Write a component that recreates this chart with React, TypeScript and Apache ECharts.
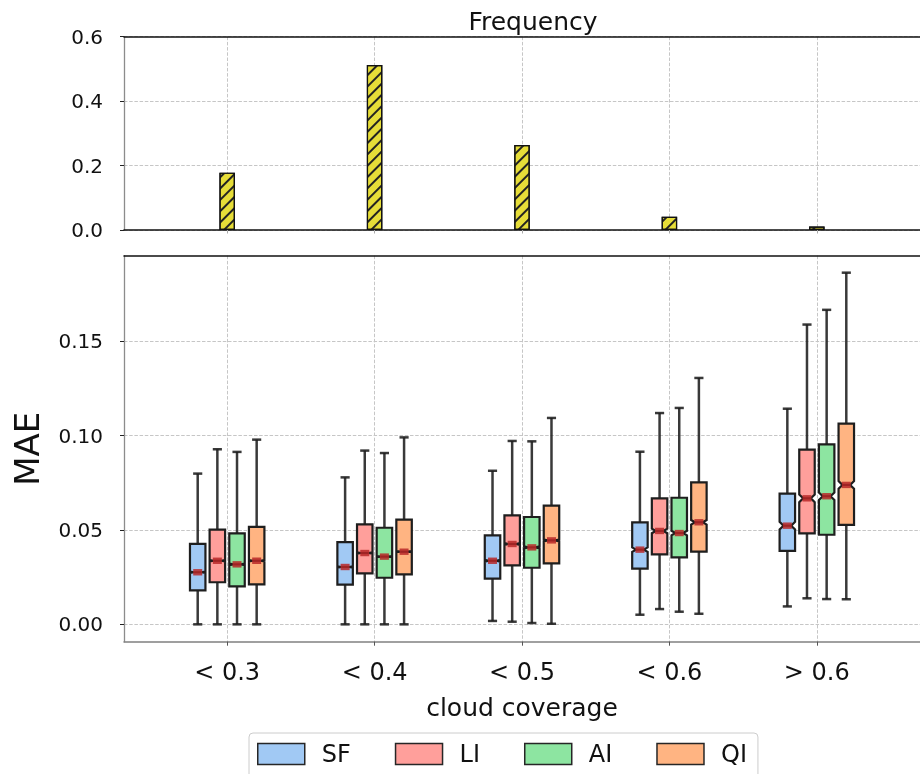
import React, { useEffect, useRef } from 'react';
import * as echarts from 'echarts';

// ---------------- data ----------------
const categories = ['< 0.3', '< 0.4', '< 0.5', '< 0.6', '> 0.6'];
const frequency = [0.178, 0.512, 0.264, 0.041, 0.011];
const seriesNames = ['SF', 'LI', 'AI', 'QI'];
// per category: [lower whisker, q1, median, q3, upper whisker]
const sfStats = [
  [0.0, 0.018, 0.0276, 0.0427, 0.0799],
  [0.0, 0.021, 0.0304, 0.0436, 0.0779],
  [0.0018, 0.0242, 0.0337, 0.0472, 0.0814],
  [0.0051, 0.0295, 0.0396, 0.0541, 0.0915],
  [0.0095, 0.0389, 0.0523, 0.0693, 0.1143],
];
const liStats = [
  [0.0, 0.0223, 0.0337, 0.0502, 0.0928],
  [0.0, 0.027, 0.0378, 0.053, 0.0921],
  [0.0014, 0.0313, 0.0426, 0.0578, 0.0972],
  [0.0081, 0.0371, 0.0495, 0.0668, 0.112],
  [0.0138, 0.0482, 0.0668, 0.0926, 0.1589],
];
const aiStats = [
  [0.0, 0.0201, 0.0318, 0.0482, 0.0914],
  [0.0, 0.0247, 0.0359, 0.0512, 0.0908],
  [0.0007, 0.03, 0.0408, 0.0569, 0.097],
  [0.0067, 0.0355, 0.0484, 0.0671, 0.1147],
  [0.0134, 0.0475, 0.0679, 0.0954, 0.1667],
];
const qiStats = [
  [0.0, 0.0212, 0.0337, 0.0517, 0.0979],
  [0.0, 0.0265, 0.0385, 0.0555, 0.0991],
  [0.0003, 0.0323, 0.0445, 0.0629, 0.1094],
  [0.0056, 0.0385, 0.0541, 0.0753, 0.1306],
  [0.0133, 0.0527, 0.0739, 0.1064, 0.1864],
];
// half height of the median notch per category
const notchHalf = [0.0004, 0.0003, 0.0005, 0.0012, 0.002];
const maeTicks = [0, 0.05, 0.1, 0.15];
const freqTicks = [0, 0.2, 0.4, 0.6];
const catTicks = [0, 1, 2, 3, 4];

// ---------------- styles ----------------
const FONT = 'DejaVu Sans';
const colors = ['#a1c9f4', '#ff9f9b', '#8de5a1', '#ffb482'];
const offsets = [-0.2, -0.0667, 0.0667, 0.2];
const BOX_W = 0.105;
const CAP_W = 0.062;
const GRID_L = 124;
const GRID_R = -12;
const X_MIN = -0.7;
const X_MAX = 4.7;
const gridLine = { show: true, lineStyle: { color: '#c6c6c6', type: [3.5, 1.7] as any, width: 1 } };

const statsAll = [sfStats, liStats, aiStats, qiStats];

function makeRender(offset: number, color: string) {
  return (params: any, api: any) => {
    const c = api.value(0) as number;
    const low = api.value(1) as number;
    const q1 = api.value(2) as number;
    const med = api.value(3) as number;
    const q3 = api.value(4) as number;
    const high = api.value(5) as number;
    const nh = api.value(6) as number;
    const xc = c + offset;
    const hw = BOX_W / 2;
    const p = (x: number, y: number) => api.coord([x, y]);
    const nlo = Math.max(q1, med - nh);
    const nhi = Math.min(q3, med + nh);
    const pts = [
      p(xc - hw, q1), p(xc + hw, q1), p(xc + hw, nlo), p(xc + hw / 2, med), p(xc + hw, nhi),
      p(xc + hw, q3), p(xc - hw, q3), p(xc - hw, nhi), p(xc - hw / 2, med), p(xc - hw, nlo),
    ];
    const wStyle = { stroke: 'rgba(30,30,30,0.88)', lineWidth: 2.5 };
    const line = (a: number[], b: number[], style: any) => ({
      type: 'line', shape: { x1: a[0], y1: a[1], x2: b[0], y2: b[1] }, style,
    });
    const mc = p(xc, med);
    return {
      type: 'group',
      children: [
        line(p(xc, q3), p(xc, high), wStyle),
        line(p(xc, low), p(xc, q1), wStyle),
        line(p(xc - CAP_W / 2, high), p(xc + CAP_W / 2, high), wStyle),
        line(p(xc - CAP_W / 2, low), p(xc + CAP_W / 2, low), wStyle),
        { type: 'polygon', shape: { points: pts }, style: { fill: color, stroke: '#1e1e1e', lineWidth: 2.2 } },
        line(p(xc - hw / 2, med), p(xc + hw / 2, med), { stroke: '#111', lineWidth: 2.2 }),
        { type: 'rect', shape: { x: mc[0] - 4.5, y: mc[1] - 3.2, width: 9, height: 6.4 }, style: { fill: 'rgba(185,40,40,0.85)' } },
      ],
    };
  };
}

export default function App() {
  const ref = useRef<HTMLDivElement>(null);
  useEffect(() => {
    document.body.style.margin = '0';
    if (!ref.current) return;
    const chart = echarts.init(ref.current, null, { renderer: 'svg' });
    const boxSeries = seriesNames.map((name, s) => ({
      name,
      type: 'custom',
      xAxisIndex: 1,
      yAxisIndex: 1,
      itemStyle: { color: colors[s], borderColor: '#262626', borderWidth: 1.5 },
      renderItem: makeRender(offsets[s], colors[s]),
      encode: { x: 0, y: [1, 2, 3, 4, 5] },
      data: statsAll[s].map((st, c) => [c, ...st, notchHalf[c]]),
      z: 3,
    }));
    const topSpine = (gridIndex: number) => ({
      type: 'value', gridIndex, min: X_MIN, max: X_MAX, position: 'top',
      axisLine: { show: true, onZero: false, lineStyle: { color: '#111', width: 1.5 } },
      axisTick: { show: false }, axisLabel: { show: false }, splitLine: { show: false },
    });
    chart.setOption({
      animation: false,
      textStyle: { fontFamily: FONT },
      title: {
        text: 'Frequency',
        left: 528,
        textAlign: 'center',
        top: 4,
        textStyle: { fontFamily: FONT, fontSize: 25, fontWeight: 'normal', color: '#111' },
      },
      legend: {
        data: seriesNames.map((n, i) => ({ name: n, itemStyle: { color: colors[i] } })),
        left: 249,
        top: 733,
        orient: 'horizontal',
        icon: 'rect',
        itemWidth: 47,
        itemHeight: 21,
        itemGap: 44,
        padding: [9, 11, 14, 8],
        borderColor: '#cccccc',
        borderWidth: 1,
        borderRadius: 4,
        backgroundColor: '#fff',
        itemStyle: { borderColor: '#262626', borderWidth: 1.5 },
        textStyle: { fontFamily: FONT, fontSize: 24, color: '#111', padding: [0, 0, 0, 12] },
      },
      grid: [
        { left: GRID_L, right: GRID_R, top: 36.7, height: 193.3 },
        { left: GRID_L, right: GRID_R, top: 255.7, height: 386 },
      ],
      xAxis: [
        {
          type: 'value', gridIndex: 0, min: X_MIN, max: X_MAX, position: 'bottom',
          axisLine: { show: true, onZero: false, lineStyle: { color: '#111', width: 1.5 } },
          axisTick: { show: true, length: 3.5, lineStyle: { color: '#aaa' }, customValues: catTicks },
          axisLabel: { show: false, customValues: catTicks },
          splitLine: gridLine,
        },
        {
          type: 'value', gridIndex: 1, min: X_MIN, max: X_MAX, position: 'bottom',
          name: 'cloud coverage', nameLocation: 'middle', nameGap: 53,
          nameTextStyle: { fontFamily: FONT, fontSize: 25, color: '#111' },
          axisLine: { show: true, onZero: false, lineStyle: { color: '#808080', width: 1.5 } },
          axisTick: { show: true, length: 4, lineStyle: { color: '#555' }, customValues: catTicks },
          axisLabel: {
            customValues: catTicks, margin: 18, fontFamily: FONT, fontSize: 24, color: '#111',
            formatter: (v: number) => (Math.abs(v - Math.round(v)) < 1e-6 ? categories[Math.round(v)] ?? '' : ''),
          },
          splitLine: gridLine,
        },
        topSpine(0),
        topSpine(1),
      ],
      yAxis: [
        {
          type: 'value', gridIndex: 0, min: 0, max: 0.6, interval: 0.2,
          axisLine: { show: true, onZero: false, lineStyle: { color: '#8c8c8c', width: 1.3 } },
          axisTick: { show: true, length: 4, lineStyle: { color: '#222' }, customValues: freqTicks },
          axisLabel: {
            customValues: freqTicks, margin: 21, fontFamily: FONT, fontSize: 20, color: '#111',
            formatter: (v: number) => v.toFixed(1),
          },
          splitLine: { show: true, lineStyle: gridLine.lineStyle },
        },
        {
          type: 'value', gridIndex: 1, min: -0.0092, max: 0.1954,
          name: 'MAE', nameLocation: 'middle', nameGap: 80,
          nameTextStyle: { fontFamily: FONT, fontSize: 34, color: '#111' },
          axisLine: { show: true, onZero: false, lineStyle: { color: '#8c8c8c', width: 1.3 } },
          axisTick: { show: true, length: 4, lineStyle: { color: '#222' }, customValues: maeTicks },
          axisLabel: {
            customValues: maeTicks, margin: 21, fontFamily: FONT, fontSize: 20, color: '#111',
            formatter: (v: number) => v.toFixed(2),
          },
          splitLine: gridLine,
        },
      ],
      series: [
        {
          name: 'Frequency',
          type: 'bar',
          xAxisIndex: 0,
          yAxisIndex: 0,
          barWidth: 15.5,
          data: frequency.map((f, i) => [i, f]),
          itemStyle: {
            color: '#e6dd38',
            borderColor: '#111',
            borderWidth: 1.2,
            decal: {
              symbol: 'rect',
              symbolSize: 1,
              dashArrayX: [1, 0],
              dashArrayY: [1.1, 5.6],
              rotation: -Math.PI / 4,
              color: '#222',
            },
          },
          z: 3,
        },
        ...boxSeries,
      ],
    } as any);
    return () => chart.dispose();
  }, []);
  return <div ref={ref} style={{ position: 'fixed', left: 0, top: 0, width: 920, height: 774 }} />;
}
